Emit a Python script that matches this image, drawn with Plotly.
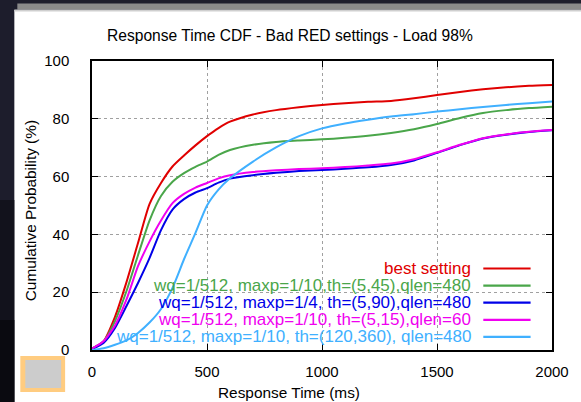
import plotly.graph_objects as go

# ---------------- data ----------------
x_ms = [0, 50, 100, 150, 200, 250, 300, 350, 400, 450, 500, 550, 600, 700, 800, 900,
        1000, 1100, 1200, 1300, 1400, 1500, 1600, 1700, 1800, 1900, 2000]

best = [0.5, 3, 11.5, 23.5, 37, 50.5, 57.8, 63.5, 67.3, 70.8, 74, 76.8, 79, 81.5, 83, 84,
        84.8, 85.4, 85.9, 86.2, 87.1, 88.2, 89.3, 90.2, 90.9, 91.4, 91.7]
green = [0.5, 3, 10, 20.4, 32.8, 44.8, 53.3, 58.2, 61.2, 63.4, 65.2, 67.5, 69.2, 71, 72, 72.5,
         72.9, 73.4, 74.1, 75.1, 76.4, 78.2, 80.3, 82, 83, 83.7, 84.2]
blue = [0.3, 2.4, 7.6, 15.2, 23.2, 31.8, 41.5, 48.6, 52.2, 54.5, 56, 57.9, 59.3, 60.5, 61.3, 61.9,
        62.3, 62.7, 63.2, 64, 65.6, 68.2, 70.9, 73.2, 74.5, 75.4, 76]
magenta = [0.5, 3, 8.5, 17.5, 29, 37.5, 44.8, 50.8, 54, 56.2, 57.8, 59.4, 60.5, 61.6, 62.2, 62.6,
           62.9, 63.3, 63.8, 64.5, 66, 68.4, 71, 73.3, 74.6, 75.5, 76.1]
cyan = [0, 0.6, 1.8, 3.3, 5.9, 9.5, 14.2, 21.5, 31.4, 40.5, 50, 55.5, 59.4, 65.2, 70.1, 74,
        76.7, 78.4, 79.7, 80.8, 81.6, 82.5, 83.3, 84.1, 84.8, 85.4, 86]

series_names = [
    "best setting",
    "wq=1/512, maxp=1/10,th=(5,45),qlen=480",
    "wq=1/512, maxp=1/4, th=(5,90),qlen=480",
    "wq=1/512, maxp=1/10, th=(5,15),qlen=60",
    "wq=1/512, maxp=1/10, th=(120,360), qlen=480",
]
series_values = [best, green, blue, magenta, cyan]
series_colors = ["#e00000", "#4aa64a", "#0000e8", "#f000f0", "#40b0ff"]

x_ticks = [0, 500, 1000, 1500, 2000]
y_ticks = [0, 20, 40, 60, 80, 100]

# ---------------- layout helpers ----------------
W, H = 581, 402
L, R, T, B = 92, 554, 61, 350   # plot area in pixels


def px(xp):
    return (xp - L) / (R - L)


def py(yp):
    return (B - yp) / (B - T)


FONT = "Liberation Sans, Arial, sans-serif"

fig = go.Figure()
for name, vals, col in zip(series_names, series_values, series_colors):
    fig.add_trace(go.Scatter(x=x_ms, y=vals, mode="lines", name=name,
                             line=dict(color=col, width=2, shape="spline", smoothing=0.6),
                             showlegend=False, hoverinfo="skip"))

shapes = []
# white panel and grey top bevel
shapes.append(dict(type="rect", xref="paper", yref="paper", layer="below",
                   x0=px(14), x1=px(W + 5), y0=py(H + 5), y1=py(10),
                   fillcolor="white", line_width=0))
shapes.append(dict(type="rect", xref="paper", yref="paper", layer="below",
                   x0=px(17), x1=px(W + 5), y0=py(9.5), y1=py(3.5),
                   fillcolor="#8a8a8a", line_width=0))
shapes.append(dict(type="rect", xref="paper", yref="paper", layer="below",
                   x0=px(14), x1=px(W + 5), y0=py(11.5), y1=py(9.5),
                   fillcolor="#cfcfcf", line_width=0))
# darker lower-left background band
shapes.append(dict(type="rect", xref="paper", yref="paper", layer="below",
                   x0=px(-5), x1=px(14), y0=py(H + 5), y1=py(200),
                   fillcolor="#12121c", line_width=0))
shapes.append(dict(type="rect", xref="paper", yref="paper", layer="below",
                   x0=px(-5), x1=px(14), y0=py(H + 5), y1=py(320),
                   fillcolor="#0a0a10", line_width=0))
# key box hiding grid lines
shapes.append(dict(type="rect", xref="paper", yref="paper", layer="between",
                   x0=px(L + 1), x1=px(543), y0=py(B - 1), y1=py(258),
                   fillcolor="white", line_width=0))
# orange/grey box at bottom-left
shapes.append(dict(type="rect", xref="paper", yref="paper", layer="above",
                   x0=px(20), x1=px(65), y0=py(392), y1=py(356),
                   fillcolor="#ffcc80", line_width=0))
shapes.append(dict(type="rect", xref="paper", yref="paper", layer="above",
                   x0=px(25), x1=px(61), y0=py(388), y1=py(360),
                   fillcolor="#cccccc", line_width=0))

annotations = []
# key
row_y = [268.5, 285.7, 302.7, 319.8, 336.8]
for name, col, ry in zip(series_names, series_colors, row_y):
    annotations.append(dict(xref="paper", yref="paper", x=px(475), y=py(ry),
                            xanchor="right", yanchor="middle", showarrow=False,
                            text=name, font=dict(family=FONT, size=17, color=col)))
    shapes.append(dict(type="line", xref="paper", yref="paper", layer="above",
                       x0=px(485), x1=px(532.5), y0=py(ry), y1=py(ry),
                       line=dict(color=col, width=2.2)))

annotations.append(dict(xref="paper", yref="paper", x=px(290.5), y=py(35.5),
                        xanchor="center", yanchor="middle", showarrow=False,
                        text="Response Time CDF - Bad RED settings - Load 98%",
                        font=dict(family=FONT, size=15.6, color="black")))
annotations.append(dict(xref="paper", yref="paper", x=px(290), y=py(392),
                        xanchor="center", yanchor="middle", showarrow=False,
                        text="Response Time (ms)",
                        font=dict(family=FONT, size=15.4, color="black")))
annotations.append(dict(xref="paper", yref="paper", x=px(30), y=py(211),
                        xanchor="center", yanchor="middle", showarrow=False,
                        textangle=-90, text="Cumulative Probability (%)",
                        font=dict(family=FONT, size=15.4, color="black")))

axis_common = dict(showline=True, linecolor="black", linewidth=1.5, mirror="ticks",
                   ticks="inside", ticklen=6, tickcolor="black", tickwidth=1,
                   showgrid=True, gridcolor="#a0a0a0", griddash="dot", gridwidth=1,
                   zeroline=False, tickfont=dict(family=FONT, size=15, color="black"))

fig.update_layout(
    width=W, height=H,
    margin=dict(l=L, r=W - R, t=T, b=H - B),
    paper_bgcolor="#1d1d2c", plot_bgcolor="white",
    shapes=shapes, annotations=annotations,
    xaxis=dict(range=[0, 2000], tickvals=x_ticks, ticklabelstandoff=7, **axis_common),
    yaxis=dict(range=[0, 100], tickvals=y_ticks, ticklabelstandoff=18, **axis_common),
)

fig.write_html("out.html")
